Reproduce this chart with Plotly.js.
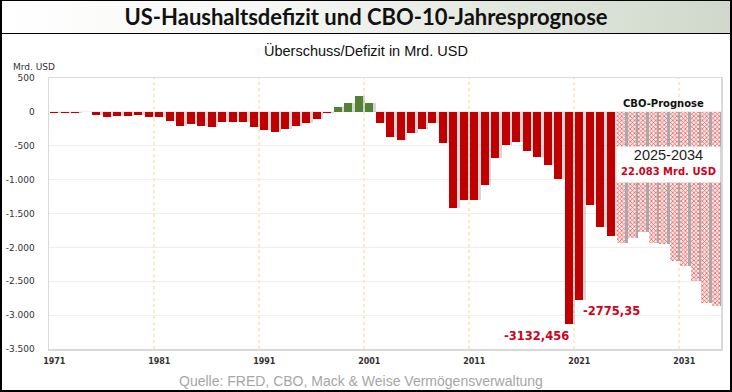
<!DOCTYPE html>
<html>
<head>
<meta charset="utf-8">
<script src="https://cdn.plot.ly/plotly-3.0.1.min.js"></script>
<style>
  html, body { margin:0; padding:0; background:#ffffff; }
  #wrap { position:relative; width:732px; height:392px; overflow:hidden; background:#ffffff; }
  #titlebg { position:absolute; left:0; top:0; width:732px; height:34px;
             background:linear-gradient(to right, #ffffff 0%, #f4f6f2 40%, #cfd8ca 100%);
             border-bottom:1.5px solid #000; box-sizing:border-box; }
  #chart { position:absolute; left:0; top:0; width:732px; height:392px; }
  #frame { position:absolute; left:0; top:0; width:732px; height:392px; box-sizing:border-box;
           border:2px solid #000; border-top:1px solid #000; pointer-events:none; }
</style>
</head>
<body>
<div id="wrap">
  <div id="titlebg"></div>
  <div id="chart"></div>
  <div id="frame"></div>
</div>
<script>
// ---- data ----
const histYears = [1971,1972,1973,1974,1975,1976,1977,1978,1979,1980,
                   1981,1982,1983,1984,1985,1986,1987,1988,1989,1990,
                   1991,1992,1993,1994,1995,1996,1997,1998,1999,2000,
                   2001,2002,2003,2004,2005,2006,2007,2008,2009,2010,
                   2011,2012,2013,2014,2015,2016,2017,2018,2019,2020,
                   2021,2022,2023,2024];
const histBalance = [-23.0,-23.4,-14.9,-6.1,-53.2,-73.7,-53.7,-59.2,-40.7,-73.8,
                     -79.0,-128.0,-207.8,-185.4,-212.3,-221.2,-149.7,-155.2,-152.6,-221.0,
                     -269.2,-290.3,-255.1,-203.2,-164.0,-107.4,-21.9,69.3,125.6,236.2,
                     128.2,-157.8,-377.6,-412.7,-318.3,-248.2,-160.7,-458.6,-1412.7,-1294.4,
                     -1299.6,-1076.6,-679.8,-484.6,-442.0,-584.7,-665.4,-779.1,-983.6,-3132.456,
                     -2775.35,-1375.9,-1694.0,-1832.8];
const cboYears = [2025,2026,2027,2028,2029,2030,2031,2032,2033,2034];
const cboBalance = [-1936,-1855,-1770,-1935,-1945,-2195,-2280,-2490,-2815,-2862];
const xTickYears = [1971,1981,1991,2001,2011,2021,2031];
const yTickVals = [500,0,-500,-1000,-1500,-2000,-2500,-3000,-3500];
const yTickText = ['500','0','-500','-1.000','-1.500','-2.000','-2.500','-3.000','-3.500'];
const labelYears = [2020, 2021];
const labelTexts = ['-3132,456', '-2775,35'];

// ---- styles ----
const RED = '#c00000', GREEN = '#548235';
const W = 0.78;
const allYears = histYears.concat(cboYears);
const allVals = histBalance.concat(cboBalance);

const shadow = {
  type:'bar', x: allYears, y: allVals, width: W, offset: -W/2 + 0.22,
  marker:{ color: allYears.map(y => y >= cboYears[0] ? '#a9a9a9' : 'rgba(140,140,140,0.35)'), line:{width:0} },
  hoverinfo:'skip', showlegend:false
};
const hist = {
  type:'bar', x: histYears, y: histBalance, width: W, offset: -W/2,
  marker:{ color: histBalance.map(v => v >= 0 ? GREEN : RED), line:{width:0} },
  showlegend:false
};
const cbo = {
  type:'bar', x: cboYears, y: cboBalance, width: W, offset: -W/2,
  marker:{ color:'#fde4e4', line:{width:0},
           pattern:{ shape:'x', size:3, solidity:0.4, fgcolor:'#e65050', bgcolor:'#fde8e8', fillmode:'replace' } },
  showlegend:false
};

const shapes = xTickYears.slice(1).map(y => ({
  type:'line', xref:'x', yref:'paper', x0: y - 0.5, x1: y - 0.5, y0:0, y1:1,
  line:{ color:'#f5d58c', width:1, dash:'dot' }, layer:'below'
}));

const cboSum = Math.round(-cboBalance.reduce((a,b)=>a+b,0));
const cboSumText = cboSum.toString().replace(/\B(?=(\d{3})+(?!\d))/g, '.') + ' Mrd. USD';

const annotations = [
  { xref:'paper', yref:'paper', x:0.4717, y:1.1033, xanchor:'center', yanchor:'middle', showarrow:false,
    text:'Überschuss/Defizit in Mrd. USD',
    font:{ family:'Liberation Sans, Arial, sans-serif', size:14.5, color:'#111' } },
  { xref:'paper', yref:'paper', x:-0.0565, y:1.0406, xanchor:'left', yanchor:'middle', showarrow:false,
    text:'Mrd. USD', font:{ family:'DejaVu Sans, sans-serif', size:9, color:'#333' } },
  { xref:'paper', yref:'paper', x:0.4643, y:-0.118, xanchor:'center', yanchor:'middle', showarrow:false,
    text:'Quelle: FRED, CBO, Mack & Weise Vermögensverwaltung',
    font:{ family:'Liberation Sans, Arial, sans-serif', size:14, color:'#a6a6a6' } },
  { xref:'x', yref:'y', x:2020.2, y:histBalance[histYears.indexOf(labelYears[0])], xanchor:'right', yanchor:'middle',
    yshift:-12, showarrow:false, text:'<b>' + labelTexts[0] + '</b>',
    font:{ family:'DejaVu Sans, sans-serif', size:11.5, color:'#d0021b' } },
  { xref:'x', yref:'y', x:2021.2, y:histBalance[histYears.indexOf(labelYears[1])], xanchor:'left', yanchor:'middle',
    yshift:-11.5, showarrow:false, text:'<b>' + labelTexts[1] + '</b>',
    font:{ family:'DejaVu Sans, sans-serif', size:11.5, color:'#d0021b' } },
  { xref:'x', yref:'y', x:2029, y:0, xanchor:'center', yanchor:'bottom', yshift:1, showarrow:false,
    text:'<b>CBO-Prognose</b>', font:{ family:'DejaVu Sans, sans-serif', size:10, color:'#111' } },
  { xref:'x', yref:'y', x:2029.5, y:-772, xanchor:'center', yanchor:'middle', showarrow:false,
    width:103, height:35, valign:'top', bgcolor:'#ffffff', borderpad:0,
    text: cboYears[0] + '-' + cboYears[cboYears.length-1],
    font:{ family:'Liberation Sans, Arial, sans-serif', size:14.5, color:'#222' } },
  { xref:'x', yref:'y', x:2029.5, y:-772, xanchor:'center', yanchor:'middle', yshift:-7, showarrow:false,
    text:'<b>' + cboSumText + '</b>', font:{ family:'DejaVu Sans, sans-serif', size:10, color:'#d0021b' } }
];

const layout = {
  width:732, height:392,
  margin:{ l:49, r:11, t:78, b:43, pad:0 },
  paper_bgcolor:'rgba(0,0,0,0)', plot_bgcolor:'#ffffff',
  barmode:'overlay', bargap:0,
  title:{ text:'<b>US-Haushaltsdefizit und CBO-10-Jahresprognose</b>', x:0.5, xanchor:'center',
          y:1 - 17/392, yanchor:'middle', font:{ family:'Lato, sans-serif', size:22, color:'#111' } },
  xaxis:{ range:[histYears[0]-0.5, cboYears[cboYears.length-1]+0.5], tickmode:'array', tickvals:xTickYears,
          ticktext:xTickYears.map(String), showgrid:false, zeroline:false, ticks:'',
          showline:true, linecolor:'#d9d9d9', linewidth:1.5, mirror:true, ticklabelstandoff:4,
          tickfont:{ family:'DejaVu Sans, sans-serif', size:8, color:'#333', weight:'bold' } },
  yaxis:{ range:[-3500, 500], tickmode:'array', tickvals:yTickVals, ticktext:yTickText,
          showgrid:true, gridcolor:'#eeeeee', gridwidth:1, zeroline:false, ticks:'',
          showline:true, linecolor:'#d9d9d9', linewidth:1.5, mirror:true, ticklabelstandoff:11,
          tickfont:{ family:'DejaVu Sans, sans-serif', size:9, color:'#333' } },
  shapes: shapes,
  annotations: annotations
};

Plotly.newPlot('chart', [shadow, hist, cbo], layout, { displayModeBar:false, staticPlot:true });
</script>
</body>
</html>
